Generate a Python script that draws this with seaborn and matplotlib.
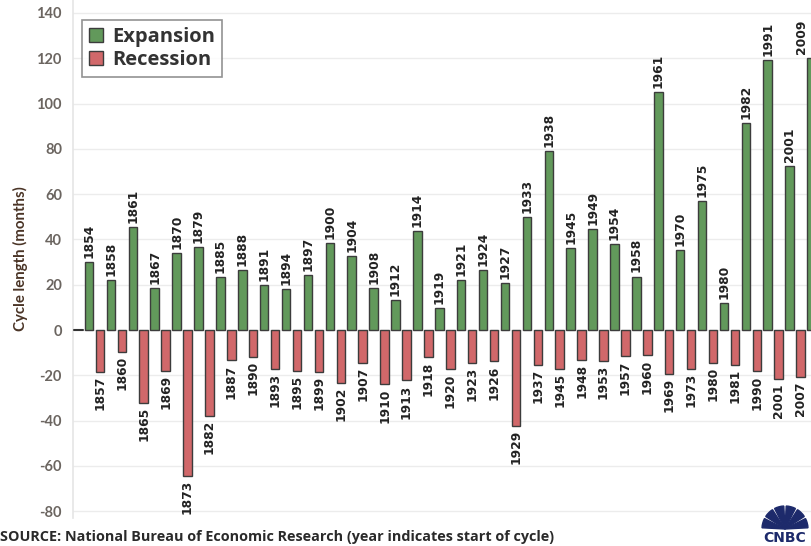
import numpy as np
import pandas as pd
import matplotlib
matplotlib.use("Agg")
import matplotlib.pyplot as plt
import seaborn as sns
from matplotlib.patches import Wedge

# Expansion (start year, months) and recession (start year, months)
exp_years = [1854, 1858, 1861, 1867, 1870, 1879, 1885, 1888, 1891, 1894, 1897, 1900,
             1904, 1908, 1912, 1914, 1919, 1921, 1924, 1927, 1933, 1938, 1945, 1949,
             1954, 1958, 1961, 1970, 1975, 1980, 1982, 1991, 2001, 2009]
exp_months = [30, 22, 45.5, 18.7, 34, 36.8, 23.3, 26.3, 19.7, 18, 24.1, 38.3,
              32.8, 18.5, 13.2, 43.7, 9.9, 21.9, 26.5, 20.6, 49.8, 79, 36.2, 44.5,
              38.1, 23.6, 105, 35.3, 57.1, 11.8, 91.3, 119.1, 72.3, 120]
rec_years = [1857, 1860, 1865, 1869, 1873, 1882, 1887, 1890, 1893, 1895, 1899, 1902,
             1907, 1910, 1913, 1918, 1920, 1923, 1926, 1929, 1937, 1945, 1948, 1953,
             1957, 1960, 1969, 1973, 1980, 1981, 1990, 2001, 2007]
rec_months = [18.4, 9.6, 32.1, 18, 64.3, 37.8, 13.4, 11.8, 17.1, 18, 18.4, 23.4,
              14.4, 23.9, 22.2, 12.1, 17.4, 14.4, 13.8, 42.3, 15.5, 17.1, 13.1, 13.5,
              11.6, 11.2, 19.3, 17.1, 14.4, 15.5, 18.3, 21.8, 20.9]

rows = []
for i, (y, m) in enumerate(zip(exp_years, exp_months)):
    rows.append({"slot": 2 * i, "year": y, "value": m, "type": "Expansion"})
for i, (y, m) in enumerate(zip(rec_years, rec_months)):
    rows.append({"slot": 2 * i + 1, "year": y, "value": -m, "type": "Recession"})
df = pd.DataFrame(rows).sort_values("slot").reset_index(drop=True)

green = "#5aa351"
red = "#e2565a"

sns.set_theme(style="white")
plt.rcParams["font.family"] = ["Lato", "DejaVu Sans"]

fig = plt.figure(figsize=(8.11, 5.46), dpi=100)
ax = fig.add_axes([73 / 811, 28 / 546, 1 - 73 / 811, 518 / 546])

sns.barplot(data=df, x="slot", y="value", hue="type", order=list(range(len(df))),
            palette={"Expansion": green, "Recession": red}, dodge=False,
            width=0.78, edgecolor="#3c3c3c", linewidth=1.0, ax=ax, zorder=3)

# year labels on the bars
last = df["slot"].max()
for _, r in df.iterrows():
    x = r["slot"]
    ha = "center"
    if x == last:
        x, ha = x - 0.35, "right"
    if r["value"] >= 0:
        ax.text(x, r["value"] + 1.8, str(r["year"]), rotation=90,
                ha=ha, va="bottom", fontsize=8.8, fontweight="bold",
                family="DejaVu Sans", color="#222222")
    else:
        ax.text(x, r["value"] - 1.8, str(r["year"]), rotation=90,
                ha=ha, va="top", fontsize=8.8, fontweight="bold",
                family="DejaVu Sans", color="#222222")

ax.set_xlim(-1.46, 65.95)
ax.set_ylim(-83, 145.7)
ax.set_yticks(np.arange(-80, 141, 20))
ax.set_yticklabels([str(v) for v in range(-80, 141, 20)])
ax.set_xticks([])
ax.set_xlabel("")
ax.set_ylabel("Cycle length (months)", fontsize=10.8, fontweight="bold",
              color="#4a3426", labelpad=6)
ax.tick_params(axis="y", labelsize=10.5, colors="#6e6e6e", length=4,
               width=0.8, pad=4)
for lab in ax.get_yticklabels():
    lab.set_fontweight("bold")
    lab.set_color("#6b6560")
ax.grid(axis="y", color="#ececec", linewidth=1, zorder=0)
for s in ["top", "right", "bottom"]:
    ax.spines[s].set_visible(False)
ax.spines["left"].set_color("#e6e6e6")
ax.axhline(0, xmin=0.002, xmax=0.013, color="#333333", linewidth=1.5, zorder=4)

leg = ax.legend(loc="upper left", bbox_to_anchor=(0.012, 0.962),
                prop={"family": "Open Sans", "weight": "bold", "size": 14.5},
                frameon=True, fancybox=False, edgecolor="#777777",
                handlelength=0.7, handleheight=0.7, handletextpad=0.45,
                borderpad=0.35, labelspacing=0.15, borderaxespad=0.0)
leg.get_frame().set_linewidth(1.2)
for t in leg.get_texts():
    t.set_color("#333333")

fig.text(0.0, 9 / 546, "SOURCE: National Bureau of Economic Research (year indicates start of cycle)",
         fontsize=10.4, fontweight="bold", family="Open Sans", color="#2a2a2a",
         ha="left", va="center")

# CNBC mark
navy = "#1d2a6b"
for k in range(6):
    a0 = 180 - k * 30
    w = Wedge((7.85, 0.17), 0.23, a0 - 27, a0 - 3, transform=fig.dpi_scale_trans,
              color=navy)
    fig.patches.append(w)
fig.text(785 / 811, 8 / 546, "CNBC", fontsize=10, fontweight="heavy", color=navy,
         ha="center", va="center", family="DejaVu Sans")

fig.savefig("out.png", dpi=100)
